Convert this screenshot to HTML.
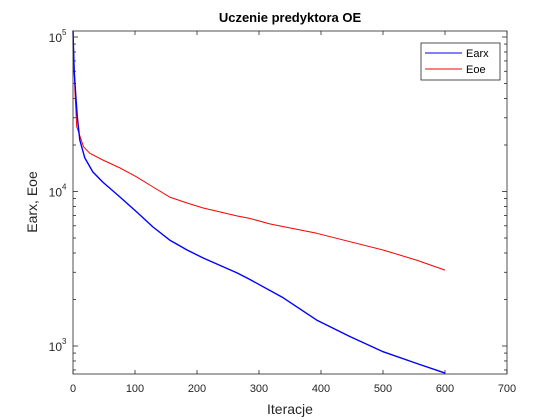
<!DOCTYPE html>
<html><head><meta charset="utf-8"><style>
body{margin:0;background:#fff;}
svg{display:block;font-family:"Liberation Sans",Arial,sans-serif;}
</style></head><body>
<svg id="chart" width="560" height="420">
<rect width="560" height="420" fill="#fff"/>
<rect x="73" y="31" width="434" height="343" fill="#fff"/>
<g id="axes"></g>
<g id="series"></g>
<rect x="73" y="31" width="434" height="343" fill="none" stroke="#262626" stroke-width="0.8"/>
<text x="290" y="22" text-anchor="middle" font-size="13" font-weight="bold" fill="#000">Uczenie predyktora OE</text>
<text x="290" y="414" text-anchor="middle" font-size="14" fill="#262626">Iteracje</text>
<text transform="translate(37,202) rotate(-90)" text-anchor="middle" font-size="14" fill="#262626">Earx, Eoe</text>
<g>
<rect x="421" y="43" width="79" height="37" fill="#fff" stroke="#262626" stroke-width="0.8"/>
<line x1="425" y1="53" x2="462" y2="53" stroke="#0000ff" stroke-width="1"/>
<text x="466" y="57" font-size="11" fill="#000">Earx</text>
<line x1="425" y1="69" x2="462" y2="69" stroke="#ff0000" stroke-width="1"/>
<text x="466" y="73" font-size="11" fill="#000">Eoe</text>
</g>
</svg>
<script>
const xTicks=[0,100,200,300,400,500,600,700];
const yDecades=[3,4,5];
const earxIter=[0,2,5,7,11,19,32,48,76,103,129,156,184,210,265,285,339,393,447,500,554,600];
const earxVal=[110000,60000,39100,30500,21500,16500,13400,11500,9200,7360,5890,4850,4180,3710,2970,2700,2050,1470,1150,918,772,668];
const eoeIter=[0,1,3,6,17,27,48,76,103,129,156,184,210,265,285,318,393,500,554,600];
const eoeVal=[110000,80000,45400,26300,19500,17700,16000,14200,12400,10700,9200,8430,7820,6940,6700,6160,5360,4180,3600,3100];
const NS="http://www.w3.org/2000/svg";
const X0=73,X1=507,Y0=31,Y1=374;
function xs(v){return X0+(v-0)/(700-0)*(X1-X0);}
function ys(v){return 37+(5-Math.log10(v))*154.5;}
const ax=document.getElementById('axes');
function mk(tag,attrs,parent){const e=document.createElementNS(NS,tag);for(const k in attrs)e.setAttribute(k,attrs[k]);parent.appendChild(e);return e;}
xTicks.forEach(t=>{
  const x=xs(t);
  const l=mk('line',{x1:x,x2:x,y1:Y1,y2:Y1-4,stroke:'#262626','stroke-width':0.8},ax);
  
  
  const l2=mk('line',{x1:x,x2:x,y1:Y0,y2:Y0+4,stroke:'#262626','stroke-width':0.8},ax);
  
  
  const tx=mk('text',{x:x,y:392,'text-anchor':'middle','font-size':11,fill:'#262626'},ax);
  tx.textContent=t;
  
  
});
[2,3,4,5].forEach(d=>{for(let m=2;m<10;m++){
  const v=m*Math.pow(10,d);const y=ys(v);if(y>Y1||y<Y0)continue;
  const l=mk('line',{x1:X0,x2:X0+3,y1:y,y2:y,stroke:'#262626','stroke-width':0.8},ax);
  
  
  const r=mk('line',{x1:X1,x2:X1-3,y1:y,y2:y,stroke:'#262626','stroke-width':0.8},ax);
  
  
}});
yDecades.forEach(d=>{
  const y=ys(Math.pow(10,d));
  const l=mk('line',{x1:X0,x2:X0+5,y1:y,y2:y,stroke:'#262626','stroke-width':0.8},ax);
  
  
  const r=mk('line',{x1:X1,x2:X1-5,y1:y,y2:y,stroke:'#262626','stroke-width':0.8},ax);
  
  
  const t=mk('text',{x:62,y:y+5,'text-anchor':'end','font-size':12,fill:'#262626'},ax);
  t.textContent='10';
  
  
  const s=mk('text',{x:62,y:y-2,'font-size':8,fill:'#262626'},ax);
  s.textContent=d;
  
  
});
const sg=document.getElementById('series');
function line(iters,vals,color,w,name){
  const pts=iters.map((it,i)=>xs(it).toFixed(1)+','+ys(vals[i]).toFixed(1)).join(' ');
  const p=mk('polyline',{points:pts,fill:'none',stroke:color,'stroke-width':w,'stroke-linejoin':'round'},sg);
  
  
}
line(eoeIter,eoeVal,'#ff0000',1,'series-eoe');
line(earxIter,earxVal,'#0000ff',1.4,'series-earx');
</script>
</body></html>
